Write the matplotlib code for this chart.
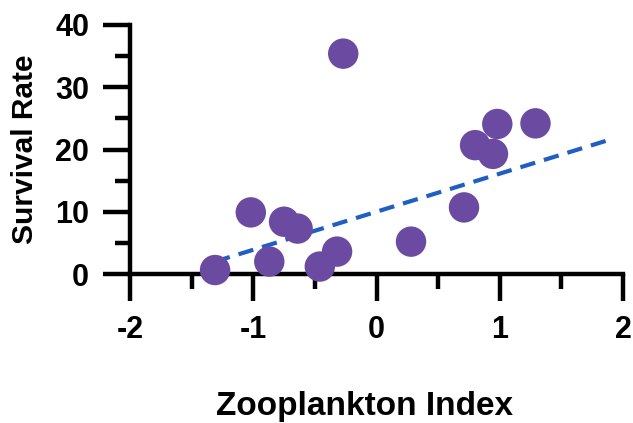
import matplotlib
matplotlib.use("Agg")
import matplotlib.pyplot as plt
from matplotlib.ticker import MultipleLocator

plt.rcParams['font.family'] = ['Liberation Sans', 'DejaVu Sans']
plt.rcParams['font.weight'] = 'bold'

# values
zoo_index = [-1.31, -1.02, -0.87, -0.75, -0.64, -0.46, -0.32, -0.27,
             0.28, 0.71, 0.80, 0.945, 0.98, 1.29]
survival = [0.64, 9.9, 2.0, 8.4, 7.3, 1.2, 3.6, 35.4,
            5.2, 10.7, 20.7, 19.3, 24.1, 24.2]
# regression line end points
fit_x = [-1.31, 1.88]
fit_y = [2.0, 21.5]

xticks = [-2, -1, 0, 1, 2]
yticks = [0, 10, 20, 30, 40]

purple = '#6b4ba1'
blue = '#1f5ec2'

fig = plt.figure(figsize=(6.33, 4.23), dpi=100)
ax = fig.add_axes([0.2054, 0.3522, 0.7788, 0.5887])

ax.plot(fit_x, fit_y, color=blue, lw=3, dashes=(3.7, 2.2), zorder=3,
        solid_capstyle='butt')
ax.scatter(zoo_index, survival, s=480, color=purple, edgecolors='none',
           zorder=4, clip_on=False)

ax.set_xlim(-2, 2)
ax.set_ylim(0, 40)
ax.set_xticks(xticks)
ax.set_yticks(yticks)
ax.xaxis.set_minor_locator(MultipleLocator(0.5))
ax.yaxis.set_minor_locator(MultipleLocator(5))
ax.set_xticklabels([str(t) for t in xticks])

for s in ['top', 'right']:
    ax.spines[s].set_visible(False)
for s in ['left', 'bottom']:
    ax.spines[s].set_linewidth(3.2)
    ax.spines[s].set_capstyle('projecting')

ax.tick_params(which='major', length=19.4, width=3.2, labelsize=22, pad=10)
ax.tick_params(which='minor', length=10.8, width=3.2)

ax.set_xlabel('Zooplankton Index', fontsize=24, fontweight='bold')
ax.xaxis.set_label_coords(0.475, -0.47)
ax.set_ylabel('Survival Rate', fontsize=21.5, fontweight='bold', labelpad=12)

fig.savefig('out.png', dpi=100)
